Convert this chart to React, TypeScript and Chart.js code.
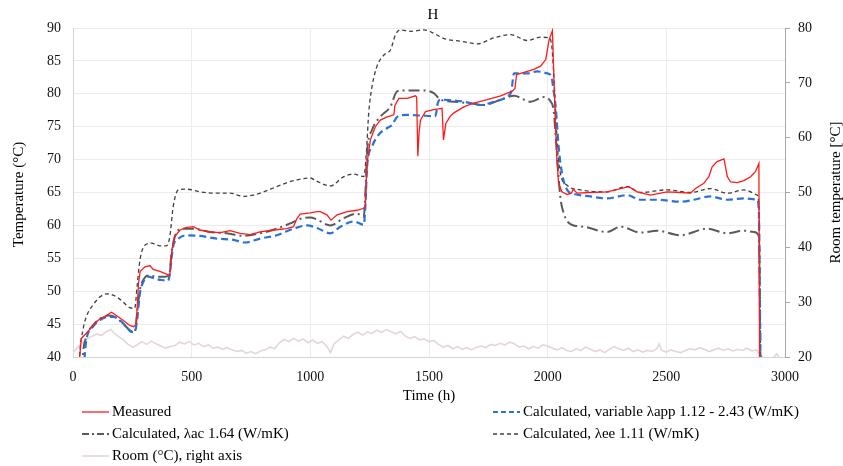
import React, { useEffect, useRef } from "react";
import { Chart, registerables } from "chart.js";

Chart.register(...registerables);

const FONT = '"Liberation Serif", "Times New Roman", serif';

const TITLE = "H";
const X_TITLE = "Time (h)";
const Y_TITLE = "Temperature (°C)";
const Y2_TITLE = "Room temperature [°C]";

const X_MIN = 0, X_MAX = 3000, X_STEP = 500;
const Y_MIN = 40, Y_MAX = 90, Y_STEP = 5;
const Y2_MIN = 20, Y2_MAX = 80, Y2_STEP = 10;

const LABEL_MEASURED = "Measured";
const LABEL_VARIABLE = "Calculated, variable λapp 1.12 - 2.43 (W/mK)";
const LABEL_AC = "Calculated, λac 1.64 (W/mK)";
const LABEL_EE = "Calculated, λee 1.11 (W/mK)";
const LABEL_ROOM = "Room (°C), right axis";

const measured: number[][] = [
  [26, 38], [28, 40.0], [35, 42.8], [56, 43.6], [84, 44.8], [113, 45.8], [141, 46.3], [162, 46.8], [183, 46.3],
  [211, 45.6], [239, 44.8], [256, 44.6], [266, 45.0], [272, 48.5], [276, 51.2], [283, 53.0], [303, 53.7],
  [324, 53.9], [338, 53.3], [366, 53.0], [394, 52.6], [408, 52.4], [412, 54.5], [418, 56.5], [429, 58.3],
  [451, 59.3], [479, 59.7], [507, 59.8], [535, 59.3], [577, 59.0], [620, 58.9], [662, 59.2], [704, 58.8],
  [746, 58.6], [788, 59.0], [845, 59.3], [901, 59.5], [929, 59.8], [943, 61.0], [957, 61.7], [1000, 61.9],
  [1028, 62.1], [1042, 62.1], [1070, 61.6], [1087, 60.8], [1113, 61.6], [1155, 62.1], [1197, 62.3],
  [1225, 62.6], [1232, 63.0], [1236, 67.0], [1241, 70.0], [1253, 73.0], [1274, 75.0], [1295, 76.0],
  [1324, 76.5], [1352, 76.8], [1356, 78.2], [1373, 79.3], [1408, 79.3], [1443, 79.7], [1448, 79.5],
  [1453, 70.5], [1458, 74.0], [1464, 76.0], [1485, 77.3], [1520, 77.6], [1541, 77.7], [1555, 77.8],
  [1561, 73.0], [1571, 75.5], [1590, 76.6], [1605, 77.1], [1647, 78.0], [1689, 78.6], [1745, 79.1],
  [1802, 79.7], [1851, 80.4], [1862, 80.8], [1869, 82.9], [1886, 83.1], [1942, 83.7], [1970, 84.2],
  [1992, 85.2], [2006, 88.2], [2020, 89.6], [2032, 76.0], [2039, 69.9], [2046, 66.4], [2060, 65.1],
  [2082, 64.7], [2100, 64.9], [2108, 65.5], [2124, 64.9], [2180, 65.0], [2250, 65.1], [2307, 65.6],
  [2342, 65.9], [2377, 65.1], [2433, 64.6], [2503, 65.1], [2560, 65.0], [2602, 64.9], [2623, 65.6],
  [2658, 66.4], [2679, 67.4], [2693, 68.9], [2714, 69.7], [2743, 70.1], [2757, 67.4], [2771, 66.6],
  [2799, 66.5], [2827, 66.8], [2855, 67.4], [2876, 68.2], [2890, 69.4], [2893, 38],
];

const calcVariable: number[][] = [
  [46, 38], [49, 40.0], [56, 42.5], [84, 44.6], [113, 45.6], [148, 46.1], [169, 46.1], [197, 45.6],
  [225, 44.6], [246, 43.8], [260, 43.8], [270, 45.6], [282, 49.7], [296, 51.4], [317, 52.2], [345, 51.9],
  [373, 51.7], [401, 51.6], [408, 52.7], [422, 56.8], [444, 58.0], [479, 58.5], [535, 58.4], [605, 58.0],
  [676, 57.8], [725, 57.4], [788, 58.0], [859, 58.5], [929, 59.5], [986, 60.0], [1028, 59.6], [1084, 58.8],
  [1127, 59.8], [1183, 60.6], [1225, 60.1], [1232, 63.0], [1239, 68.9], [1260, 72.0], [1288, 73.8],
  [1324, 74.8], [1345, 75.3], [1366, 76.5], [1408, 76.8], [1464, 76.7], [1527, 76.6], [1537, 78.6],
  [1549, 79.1], [1605, 79.0], [1661, 78.7], [1717, 78.3], [1774, 78.8], [1830, 79.6], [1847, 80.4],
  [1858, 83.1], [1914, 83.1], [1956, 83.4], [1999, 83.1], [2015, 82.7], [2025, 80.5], [2035, 77.5],
  [2046, 72.0], [2060, 68.0], [2082, 65.4], [2110, 64.8], [2180, 64.4], [2250, 64.1], [2335, 64.6],
  [2391, 63.9], [2461, 63.9], [2560, 63.6], [2616, 63.9], [2686, 64.4], [2757, 63.9], [2827, 64.1],
  [2883, 63.9], [2890, 62.0], [2897, 38],
];

const calcAc: number[][] = [
  [40, 38], [42, 40.0], [56, 43.0], [84, 44.8], [113, 45.8], [148, 46.3], [176, 46.1], [204, 45.3],
  [239, 44.1], [260, 43.8], [270, 46.6], [282, 50.2], [296, 51.7], [317, 52.4], [352, 52.2], [387, 52.2],
  [405, 52.4], [415, 55.7], [429, 58.3], [458, 59.5], [507, 59.5], [577, 59.0], [648, 58.8], [718, 58.4],
  [788, 58.8], [859, 59.5], [915, 60.3], [957, 61.0], [1000, 61.2], [1028, 60.9], [1084, 60.0],
  [1141, 61.1], [1197, 61.8], [1225, 61.3], [1232, 65.0], [1239, 71.0], [1260, 74.5], [1295, 76.5],
  [1338, 78.1], [1366, 80.4], [1408, 80.5], [1478, 80.5], [1520, 80.1], [1549, 79.1], [1605, 78.8],
  [1661, 78.6], [1731, 78.3], [1802, 79.1], [1858, 79.7], [1928, 78.8], [1985, 79.5], [2013, 78.8],
  [2025, 77.5], [2039, 71.0], [2053, 64.4], [2068, 61.8], [2096, 60.2], [2152, 59.8], [2250, 59.0],
  [2307, 59.8], [2391, 58.9], [2461, 59.2], [2560, 58.5], [2672, 59.5], [2757, 58.8], [2827, 59.2],
  [2869, 59.0], [2890, 58.3], [2897, 38],
];

const calcEe: number[][] = [
  [26, 38], [28, 40.0], [42, 44.1], [56, 46.1], [84, 47.9], [113, 49.1], [141, 49.6], [169, 49.4],
  [204, 48.6], [239, 47.5], [260, 47.4], [270, 50.7], [282, 54.7], [303, 57.0], [331, 57.3], [366, 56.9],
  [394, 56.9], [408, 58.3], [422, 62.8], [444, 65.4], [479, 65.5], [535, 65.1], [605, 64.9], [662, 64.9],
  [718, 64.4], [788, 64.9], [859, 65.9], [929, 66.8], [1000, 67.2], [1028, 66.7], [1084, 66.0],
  [1141, 67.4], [1183, 67.8], [1225, 67.4], [1236, 71.0], [1246, 77.1], [1260, 81.1], [1281, 84.2],
  [1310, 85.9], [1338, 86.7], [1359, 89.0], [1380, 89.7], [1422, 89.5], [1478, 89.7], [1520, 89.2],
  [1563, 88.4], [1633, 88.0], [1703, 87.6], [1774, 88.5], [1844, 89.0], [1914, 88.1], [1970, 88.6],
  [2006, 88.5], [2018, 87.0], [2030, 80.0], [2041, 72.0], [2053, 68.0], [2082, 66.1], [2138, 65.4],
  [2250, 65.1], [2335, 65.9], [2391, 65.0], [2503, 65.4], [2602, 65.0], [2686, 65.6], [2757, 64.9],
  [2827, 65.4], [2883, 64.6], [2890, 63.0], [2897, 38],
];

const room: number[][] = [
  [0, 20.8], [20, 21.8], [40, 22.6], [60, 23.3], [80, 23.8], [100, 24.2], [120, 23.9], [140, 24.6],
  [160, 25.0], [175, 24.3], [190, 23.8], [210, 23.2], [230, 22.4], [250, 21.8], [270, 22.2], [290, 22.8],
  [310, 22.3], [330, 22.9], [350, 22.4], [370, 22.0], [390, 21.6], [410, 21.9], [430, 22.1], [450, 22.7],
  [470, 22.4], [490, 22.8], [510, 22.2], [530, 22.5], [550, 21.9], [570, 22.2], [590, 21.6], [610, 21.8],
  [630, 21.4], [650, 21.7], [670, 21.3], [690, 21.0], [710, 21.2], [730, 20.7], [750, 21.0], [770, 20.6],
  [790, 21.1], [810, 21.3], [830, 21.8], [850, 21.5], [870, 22.6], [890, 23.2], [910, 22.8], [930, 23.4],
  [950, 22.9], [970, 23.3], [990, 22.6], [1010, 23.1], [1030, 22.5], [1050, 22.8], [1070, 21.9],
  [1085, 20.8], [1100, 22.4], [1120, 23.1], [1140, 23.8], [1160, 23.4], [1180, 24.1], [1200, 24.5],
  [1220, 24.0], [1240, 24.6], [1260, 24.3], [1280, 24.9], [1300, 24.5], [1320, 25.0], [1340, 24.6],
  [1360, 24.2], [1380, 24.7], [1400, 23.8], [1420, 23.4], [1440, 23.7], [1460, 23.1], [1480, 23.3],
  [1500, 22.8], [1520, 23.0], [1540, 22.3], [1560, 21.8], [1580, 22.1], [1600, 21.5], [1620, 21.9],
  [1640, 21.4], [1660, 21.7], [1680, 21.3], [1700, 21.8], [1720, 22.0], [1740, 21.7], [1760, 22.3],
  [1780, 22.1], [1800, 22.5], [1820, 22.2], [1840, 22.7], [1860, 22.4], [1880, 21.8], [1900, 22.0],
  [1920, 21.5], [1940, 21.9], [1960, 21.6], [1980, 22.2], [2000, 22.0], [2020, 21.6], [2040, 21.3],
  [2060, 21.7], [2080, 21.2], [2100, 21.0], [2120, 21.5], [2140, 21.2], [2160, 21.8], [2180, 21.4],
  [2200, 21.0], [2220, 21.3], [2240, 20.8], [2260, 21.4], [2280, 21.9], [2300, 21.5], [2320, 21.2],
  [2340, 21.6], [2360, 21.0], [2380, 21.3], [2400, 20.9], [2420, 21.2], [2440, 21.0], [2460, 21.5],
  [2470, 22.4], [2480, 21.2], [2500, 20.9], [2520, 21.3], [2540, 21.0], [2560, 20.8], [2580, 21.2],
  [2600, 21.5], [2620, 21.3], [2640, 21.7], [2660, 21.4], [2680, 21.0], [2700, 21.3], [2720, 21.6],
  [2740, 21.2], [2760, 21.5], [2780, 21.1], [2800, 21.4], [2820, 21.2], [2840, 21.6], [2860, 21.1],
  [2880, 21.3], [2895, 20.3], [2910, 19.8], [2950, 19.8], [2966, 20.6], [2976, 19.8],
];

const COLOR_MEASURED = "#ff1a1a";
const COLOR_VARIABLE = "#2a72d8";
const COLOR_AC = "#5a5a5a";
const COLOR_EE = "#404040";
const COLOR_ROOM = "#e4d6d6";

const DASH_VARIABLE = [7, 4];
const DASH_AC = [11, 4, 2, 4];
const DASH_EE = [4, 3];

const legendItems = [
  { text: LABEL_MEASURED, color: COLOR_MEASURED, dash: [] as number[], width: 1.3, x: 82, y: 412 },
  { text: LABEL_AC, color: COLOR_AC, dash: [7, 3, 2, 3], width: 2, x: 82, y: 434 },
  { text: LABEL_ROOM, color: COLOR_ROOM, dash: [] as number[], width: 1.6, x: 82, y: 456 },
  { text: LABEL_VARIABLE, color: COLOR_VARIABLE, dash: [5, 3], width: 2.2, x: 493, y: 412 },
  { text: LABEL_EE, color: COLOR_EE, dash: [4, 3], width: 1.3, x: 493, y: 434 },
];

const decorPlugin = {
  id: "decor",
  afterDraw(chart: any) {
    const ctx = chart.ctx as CanvasRenderingContext2D;
    const a = chart.chartArea;
    const midY = (a.top + a.bottom) / 2;
    ctx.save();
    ctx.fillStyle = "#000";
    ctx.font = `15px ${FONT}`;
    ctx.textAlign = "center";
    ctx.textBaseline = "middle";
    ctx.fillText(TITLE, 433, 15);
    ctx.fillText(X_TITLE, (a.left + a.right) / 2, 396);

    ctx.save();
    ctx.translate(19, midY + 2);
    ctx.rotate(-Math.PI / 2);
    ctx.fillText(Y_TITLE, 0, 0);
    ctx.restore();

    ctx.save();
    ctx.translate(836, midY);
    ctx.rotate(-Math.PI / 2);
    ctx.fillText(Y2_TITLE, 0, 0);
    ctx.restore();

    ctx.textAlign = "left";
    for (const it of legendItems) {
      ctx.save();
      ctx.strokeStyle = it.color;
      ctx.lineWidth = it.width;
      ctx.setLineDash(it.dash);
      ctx.beginPath();
      ctx.moveTo(it.x, it.y);
      ctx.lineTo(it.x + 27, it.y);
      ctx.stroke();
      ctx.restore();
      ctx.fillText(it.text, it.x + 30, it.y);
    }
    ctx.restore();
  },
};

export default function App() {
  const ref = useRef<HTMLCanvasElement | null>(null);

  useEffect(() => {
    if (!ref.current) return;
    const tickFont = { family: FONT, size: 14 };
    const plain = (v: any) => String(v);
    const chart = new Chart(ref.current, {
      type: "line",
      data: {
        datasets: [
          {
            label: LABEL_MEASURED,
            data: measured as any,
            borderColor: COLOR_MEASURED,
            borderWidth: 1.3,
            pointRadius: 0,
            tension: 0,
            yAxisID: "y",
          },
          {
            label: LABEL_VARIABLE,
            data: calcVariable as any,
            borderColor: COLOR_VARIABLE,
            borderWidth: 2.2,
            borderDash: DASH_VARIABLE,
            pointRadius: 0,
            cubicInterpolationMode: "monotone",
            yAxisID: "y",
          },
          {
            label: LABEL_AC,
            data: calcAc as any,
            borderColor: COLOR_AC,
            borderWidth: 2,
            borderDash: DASH_AC,
            pointRadius: 0,
            cubicInterpolationMode: "monotone",
            yAxisID: "y",
          },
          {
            label: LABEL_EE,
            data: calcEe as any,
            borderColor: COLOR_EE,
            borderWidth: 1.3,
            borderDash: DASH_EE,
            pointRadius: 0,
            cubicInterpolationMode: "monotone",
            yAxisID: "y",
          },
          {
            label: LABEL_ROOM,
            data: room as any,
            borderColor: COLOR_ROOM,
            borderWidth: 1.6,
            pointRadius: 0,
            tension: 0,
            yAxisID: "y2",
          },
        ],
      },
      options: {
        animation: false,
        responsive: true,
        maintainAspectRatio: false,
        layout: { padding: { top: 28, left: 0, right: 0, bottom: 0 } },
        plugins: {
          legend: { display: false },
          title: { display: false },
          tooltip: { enabled: false },
        },
        scales: {
          x: {
            type: "linear",
            min: X_MIN,
            max: X_MAX,
            ticks: { stepSize: X_STEP, font: tickFont, color: "#111", padding: 12, maxRotation: 0, callback: plain },
            grid: { color: "#ececec", drawTicks: false },
            border: { color: "#d4d4d4" },
            afterFit: (s: any) => { s.height = 109; },
          },
          y: {
            type: "linear",
            position: "left",
            min: Y_MIN,
            max: Y_MAX,
            ticks: { stepSize: Y_STEP, font: tickFont, color: "#111", padding: 12, callback: plain },
            grid: { color: "#ececec", drawTicks: false },
            border: { color: "#d4d4d4" },
            afterFit: (s: any) => { s.width = 73; },
          },
          y2: {
            type: "linear",
            position: "right",
            min: Y2_MIN,
            max: Y2_MAX,
            ticks: { stepSize: Y2_STEP, font: tickFont, color: "#111", padding: 8, callback: plain },
            grid: { drawOnChartArea: false, drawTicks: true, tickLength: 5, color: "#a8a8a8" },
            border: { color: "#a8a8a8" },
            afterFit: (s: any) => { s.width = 58; },
          },
        },
      },
      plugins: [decorPlugin],
    });
    return () => chart.destroy();
  }, []);

  return (
    <div style={{ position: "fixed", left: 0, top: 0, width: 843, height: 466, background: "#fff" }}>
      <canvas ref={ref} />
    </div>
  );
}
